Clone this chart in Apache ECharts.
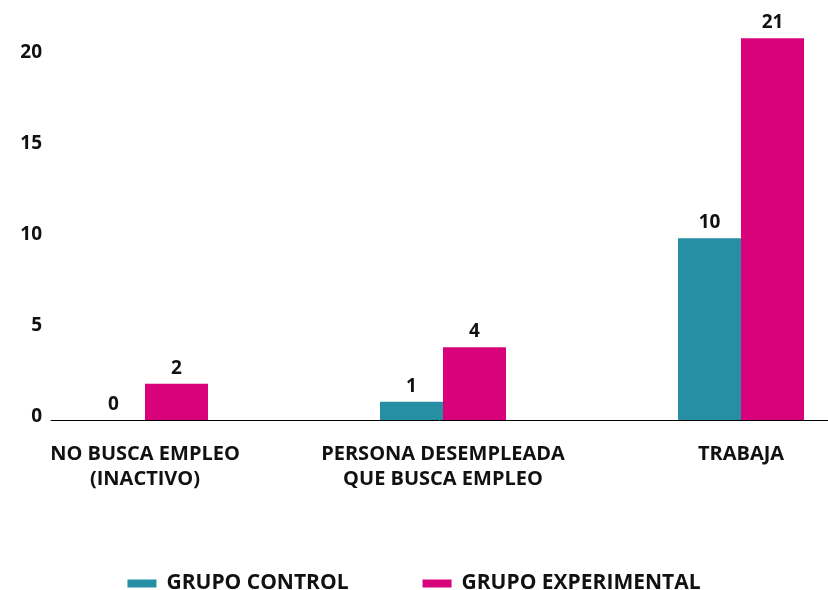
<!DOCTYPE html>
<html>
<head>
<meta charset="utf-8">
<script src="https://cdn.jsdelivr.net/npm/echarts@6/dist/echarts.min.js"></script>
<style>
  html, body { margin: 0; padding: 0; background: #fff; }
  #chart { width: 828px; height: 590px; }
</style>
</head>
<body>
<div id="chart"></div>
<script>
// categories and values
let categories = ['NO BUSCA EMPLEO\n(INACTIVO)', 'PERSONA DESEMPLEADA\nQUE BUSCA EMPLEO', 'TRABAJA'];
let grupoControl = [0, 1, 10];
let grupoExperimental = [2, 4, 21];
let yTicks = [0, 5, 10, 15, 20];

let font = '"Open Sans", sans-serif';
let ink = '#111111';
let fs = 19;

let myChart = echarts.init(document.getElementById('chart'));

let option = {
    backgroundColor: '#ffffff',
    animation: false,
    textStyle: { fontFamily: font },
    grid: [
        // axis frame (visible y labels + baseline)
        { left: 51, right: 0, top: 20, bottom: 170, outerBoundsMode: 'none' },
        // bars (wider than the picture, cropped like the original)
        { left: -4, width: 894, top: 20, bottom: 170, outerBoundsMode: 'none' }
    ],
    xAxis: [
        {
            gridIndex: 0,
            type: 'category',
            data: [''],
            axisLine: { show: true, lineStyle: { color: '#000', width: 1 } },
            axisTick: { show: false },
            axisLabel: { show: false }
        },
        {
            gridIndex: 1,
            type: 'category',
            data: categories,
            axisLine: { show: false },
            axisTick: { show: false },
            axisLabel: {
                interval: 0,
                margin: 22,
                color: ink,
                fontFamily: font,
                fontWeight: 'bold',
                fontSize: 20,
                lineHeight: 25
            }
        }
    ],
    yAxis: [
        {
            gridIndex: 0,
            type: 'value',
            min: 0,
            max: 22,
            interval: 5,
            splitLine: { show: false },
            axisLine: { show: false },
            axisTick: { show: false },
            axisLabel: {
                margin: 9,
                formatter: function (v) {
                    return yTicks.indexOf(v) >= 0 ? '{t|' + v + '}' : '';
                },
                rich: {
                    t: {
                        color: ink,
                        fontFamily: font,
                        fontWeight: 'bold',
                        fontSize: fs,
                        padding: [0, 0, 7, 0]
                    }
                }
            }
        },
        {
            gridIndex: 1,
            type: 'value',
            min: 0,
            max: 22,
            interval: 5,
            show: false
        }
    ],
    legend: {
        top: 568,
        left: 'center',
        itemWidth: 29,
        itemHeight: 8,
        itemGap: 74,
        icon: 'rect',
        textStyle: {
            color: ink,
            fontFamily: font,
            fontWeight: 'bold',
            fontSize: 21,
            padding: [0, 0, 0, 5]
        },
        data: ['GRUPO CONTROL', 'GRUPO EXPERIMENTAL']
    },
    series: [
        {
            name: 'GRUPO CONTROL',
            type: 'bar',
            xAxisIndex: 1,
            yAxisIndex: 1,
            barWidth: 63,
            barGap: '0%',
            itemStyle: { color: '#268fa4' },
            label: {
                show: true,
                position: 'top',
                distance: 6,
                color: ink,
                fontFamily: font,
                fontWeight: 'bold',
                fontSize: fs
            },
            data: grupoControl
        },
        {
            name: 'GRUPO EXPERIMENTAL',
            type: 'bar',
            xAxisIndex: 1,
            yAxisIndex: 1,
            barWidth: 63,
            barGap: '0%',
            itemStyle: { color: '#d8027b' },
            label: {
                show: true,
                position: 'top',
                distance: 6,
                color: ink,
                fontFamily: font,
                fontWeight: 'bold',
                fontSize: fs
            },
            data: grupoExperimental
        }
    ]
};
myChart.setOption(option);
</script>
</body>
</html>
